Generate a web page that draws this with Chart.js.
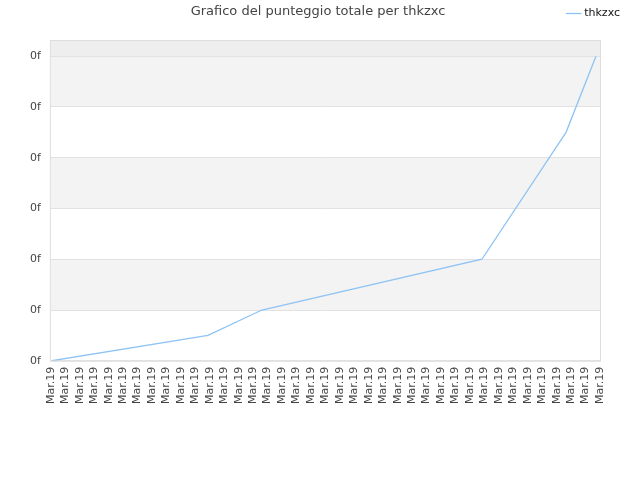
<!DOCTYPE html>
<html>
<head>
<meta charset="utf-8">
<script src="https://cdn.jsdelivr.net/npm/chart.js@4/dist/chart.umd.min.js"></script>
<style>
  html, body { margin: 0; padding: 0; background: #fff; }
  #wrap { width: 640px; height: 480px; }
</style>
</head>
<body>
<div id="wrap"><canvas id="theChart" width="640" height="480"></canvas></div>
<script>
// x axis labels (one per tick)
var xLabels = [];
for (var i = 0; i < 39; i++) { xLabels.push('Mar.19'); }

// where the line bends, in tick units along the x axis, and the score there
var pointPos = [0.07, 10.87, 14.6, 29.83, 35.65, 37.72];
var scores = [0, 0.5, 1, 2, 4.5, 6];

var yTickLabel = '0f';
var seriesName = 'thkzxc';
var titleText = 'Grafico del punteggio totale per thkzxc';

var lineColor = '#8fc3f4';

// alternating bands behind the grid, plus frame and title
var bandsPlugin = {
  id: 'bands',
  beforeInit: function (chart) {
    // leave more room under the legend
    var fit = chart.legend.fit;
    chart.legend.fit = function () {
      fit.bind(chart.legend)();
      this.height += 12;
    };
  },
  beforeDraw: function (chart) {
    var ctx = chart.ctx;
    var area = chart.chartArea;
    var y = chart.scales.y;
    ctx.save();
    ctx.fillStyle = '#ffffff';
    ctx.fillRect(0, 0, chart.width, chart.height);
    for (var v = 0; v < 6; v++) {
      var top = y.getPixelForValue(v + 1);
      var bottom = y.getPixelForValue(v);
      ctx.fillStyle = (v % 2 == 1) ? '#f3f3f3' : '#ffffff';
      ctx.fillRect(area.left, top, area.right - area.left, bottom - top);
    }
    var t6 = y.getPixelForValue(6);
    ctx.fillStyle = '#eeeeee';
    ctx.fillRect(area.left, area.top, area.right - area.left, t6 - area.top);
    ctx.restore();
  },
  afterDraw: function (chart) {
    var ctx = chart.ctx;
    var area = chart.chartArea;
    ctx.save();
    ctx.strokeStyle = '#dddddd';
    ctx.lineWidth = 1;
    ctx.strokeRect(area.left - 0.5, area.top - 0.5, area.right - area.left + 1, area.bottom - area.top + 1);
    ctx.fillStyle = '#444444';
    ctx.font = '13px "DejaVu Sans"';
    ctx.textAlign = 'center';
    ctx.textBaseline = 'middle';
    ctx.fillText(titleText, 318, 12);
    ctx.restore();
  }
};

var data = [];
for (var j = 0; j < pointPos.length; j++) {
  data.push({ x: pointPos[j], y: scores[j] });
}

Chart.defaults.font.family = '"DejaVu Sans"';

var myChart = new Chart(document.getElementById('theChart').getContext('2d'), {
  type: 'line',
  data: {
    datasets: [{
      label: seriesName,
      data: data,
      borderColor: lineColor,
      backgroundColor: lineColor,
      borderWidth: 1.3,
      pointRadius: 0,
      tension: 0,
      fill: false
    }]
  },
  options: {
    responsive: false,
    animation: false,
    layout: { padding: { left: 20, right: 12, top: 0, bottom: 70 } },
    plugins: {
      title: { display: false },
      tooltip: { enabled: false },
      legend: {
        position: 'top',
        align: 'end',
        labels: {
          usePointStyle: true,
          pointStyle: 'line',
          boxWidth: 10,
          color: '#111111',
          font: { size: 11 },
          padding: 8
        }
      }
    },
    scales: {
      x: {
        type: 'linear',
        min: 0,
        max: xLabels.length - 1,
        grid: { display: false, drawTicks: false },
        border: { display: false },
        ticks: {
          stepSize: 1,
          autoSkip: false,
          maxRotation: 90,
          minRotation: 90,
          padding: 6,
          color: '#444444',
          font: { size: 11 },
          callback: function (value) { return xLabels[value]; }
        }
      },
      y: {
        min: 0,
        max: 6.3,
        afterBuildTicks: function (scale) {
          scale.ticks = scale.ticks.filter(function (t) { return Number.isInteger(t.value); });
        },
        grid: { color: '#e2e2e2', drawTicks: false },
        border: { display: false },
        ticks: {
          stepSize: 1,
          padding: 10,
          color: '#444444',
          font: { size: 11 },
          callback: function () { return yTickLabel; }
        }
      },
      // empty strip on the right so the plot stops short of the legend edge
      yRight: {
        position: 'right',
        display: true,
        grid: { display: false },
        border: { display: false },
        ticks: { display: false },
        afterFit: function (scale) { scale.width = 28; }
      }
    }
  },
  plugins: [bandsPlugin]
});
</script>
</body>
</html>
